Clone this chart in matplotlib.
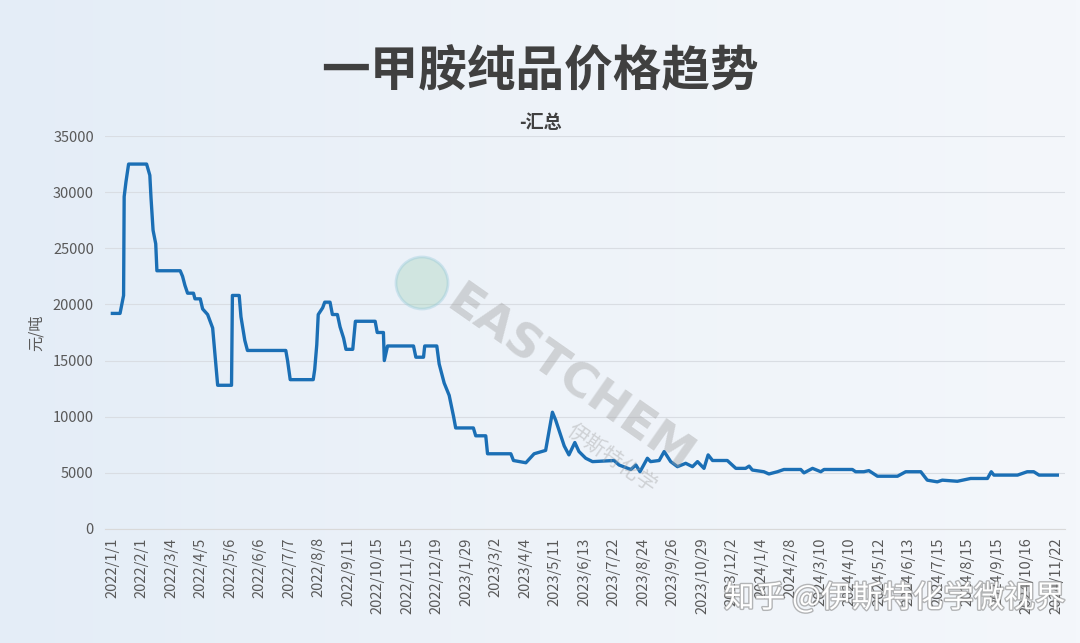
import numpy as np
import matplotlib.pyplot as plt
import matplotlib.patheffects as pe
from matplotlib.patches import Ellipse
from matplotlib.colors import LinearSegmentedColormap

plt.rcParams['font.family'] = ['Noto Sans CJK SC', 'DejaVu Sans']

# category labels shown on the x axis (one every tick unit)
tick_labels = ['2022/1/1', '2022/2/1', '2022/3/4', '2022/4/5', '2022/5/6', '2022/6/6',
               '2022/7/7', '2022/8/8', '2022/9/11', '2022/10/15', '2022/11/15', '2022/12/19',
               '2023/1/29', '2023/3/2', '2023/4/4', '2023/5/11', '2023/6/13', '2023/7/22',
               '2023/8/24', '2023/9/26', '2023/10/29', '2023/12/2', '2024/1/4', '2024/2/8',
               '2024/3/10', '2024/4/10', '2024/5/12', '2024/6/13', '2024/7/15', '2024/8/15',
               '2024/9/15', '2024/10/16', '2024/11/22']

# price series: position in tick units and price in 元/吨
pos = [0.0, 0.26, 0.38, 0.40, 0.46, 0.55, 1.16, 1.27, 1.31, 1.38, 1.47, 1.51,
       2.30, 2.38, 2.46, 2.55, 2.75, 2.80, 2.98, 3.06, 3.23, 3.40, 3.57, 4.04,
       4.07, 4.30, 4.36, 4.49, 4.58, 5.88, 5.94, 6.03, 6.81, 6.86, 6.93, 6.98,
       7.13, 7.20, 7.38, 7.46, 7.63, 7.72, 7.84, 7.92, 8.15, 8.24, 8.91, 8.98,
       9.19, 9.22, 9.33, 10.21, 10.29, 10.55, 10.59, 11.00, 11.08, 11.25, 11.42, 11.57,
       11.64, 12.24, 12.32, 12.66, 12.72, 13.51, 13.60, 14.02, 14.30, 14.69, 14.92, 15.03,
       15.18, 15.32, 15.48, 15.68, 15.82, 16.05, 16.28, 17.01, 17.18, 17.58, 17.75, 17.89,
       18.14, 18.25, 18.54, 18.71, 18.93, 19.16, 19.44, 19.67, 19.84, 20.06, 20.20, 20.35,
       20.85, 21.14, 21.47, 21.59, 21.70, 22.09, 22.26, 22.55, 22.77, 23.34, 23.45, 23.74,
       24.02, 24.13, 25.09, 25.20, 25.48, 25.65, 25.94, 26.62, 26.90, 27.41, 27.63, 27.97,
       28.14, 28.65, 29.10, 29.67, 29.80, 29.89, 30.69, 31.02, 31.24, 31.42, 32.04]
price = [19200, 19200, 20800, 29600, 30900, 32500, 32500, 31500, 29500, 26600, 25400, 23000,
         23000, 22500, 21700, 21000, 21000, 20500, 20500, 19600, 19100, 17900, 12800, 12800,
         20800, 20800, 18900, 16800, 15900, 15900, 15000, 13300, 13300, 14200, 16400, 19100,
         19700, 20200, 20200, 19100, 19100, 18000, 17000, 16000, 16000, 18500, 18500, 17500,
         17500, 15000, 16300, 16300, 15300, 15300, 16300, 16300, 14700, 13000, 11900, 10000,
         9000, 9000, 8300, 8300, 6700, 6700, 6100, 5900, 6700, 7000, 10400, 9700,
         8500, 7400, 6600, 7700, 6900, 6300, 6000, 6100, 5700, 5300, 5700, 5100,
         6300, 6000, 6100, 6900, 6000, 5550, 5850, 5550, 6000, 5400, 6600, 6100,
         6100, 5400, 5400, 5600, 5250, 5100, 4900, 5100, 5300, 5300, 5000, 5400,
         5100, 5300, 5300, 5100, 5100, 5200, 4700, 4700, 5100, 5100, 4350, 4200,
         4350, 4250, 4500, 4500, 5100, 4800, 4800, 5100, 5100, 4800, 4800]

fig = plt.figure(figsize=(10.8, 6.43), dpi=100)

# light blue background gradient
bg = fig.add_axes([0, 0, 1, 1], zorder=-10)
grad = np.linspace(0, 1, 256).reshape(1, -1)
bg.imshow(grad, aspect='auto', extent=[0, 1, 0, 1],
          cmap=LinearSegmentedColormap.from_list('bgc', ['#e4edf7', '#eef3f9', '#f4f7fb']))
bg.axis('off')

ax = fig.add_axes([105 / 1080, 1 - 529 / 643, 960 / 1080, 393 / 643])
ax.set_facecolor('none')

ax.plot(pos, price, color='#1b6fb5', linewidth=2.4, solid_joinstyle='round', zorder=3)

ax.set_ylim(0, 35000)
ax.set_yticks(np.arange(0, 35001, 5000))
ax.set_xlim(-0.25, 32.3)
ax.set_xticks(range(len(tick_labels)))
ax.set_xticklabels(tick_labels, rotation=90, fontsize=10.5, color='#595959')
ax.tick_params(axis='y', labelsize=10.5, labelcolor='#595959', length=0, pad=8)
ax.tick_params(axis='x', length=0, pad=6)
ax.grid(axis='y', color='#d9dde3', linewidth=0.8)
ax.set_axisbelow(True)
for s in ['top', 'right', 'left']:
    ax.spines[s].set_visible(False)
ax.spines['bottom'].set_color('#d9d9d9')

ax.set_ylabel('元/吨', fontsize=11, color='#595959', labelpad=6)

fig.text(0.5, 1 - 72 / 643, '一甲胺纯品价格趋势', ha='center', va='center',
         fontsize=35, fontweight='bold', color='#404040')
fig.text(0.5, 1 - 122 / 643, '-汇总', ha='center', va='center',
         fontsize=13, fontweight='bold', color='#404040')

# watermark
fig.text(570 / 1080, 1 - 380 / 643, 'EASTCHEM', ha='center', va='center', rotation=-35,
         fontsize=34, fontweight='bold', color='#a0a0a0', alpha=0.4, family='DejaVu Sans')
fig.text(612 / 1080, 1 - 458 / 643, '伊斯特化学', ha='center', va='center', rotation=-35,
         fontsize=15, color='#a0a0a0', alpha=0.4)
logo = Ellipse((422 / 1080, 1 - 283 / 643), 52 / 1080, 52 / 643, transform=fig.transFigure,
               facecolor='#9fd0b4', edgecolor='#8ec5d8', linewidth=2, alpha=0.35, zorder=1)
fig.patches.append(logo)

fig.text(1065 / 1080, 1 - 598 / 643, '知乎 @伊斯特化学微视界', ha='right', va='center',
         fontsize=22, color='white',
         path_effects=[pe.withStroke(linewidth=2, foreground='#8a8a8a', alpha=0.6)])

fig.savefig('out.png', dpi=100)
